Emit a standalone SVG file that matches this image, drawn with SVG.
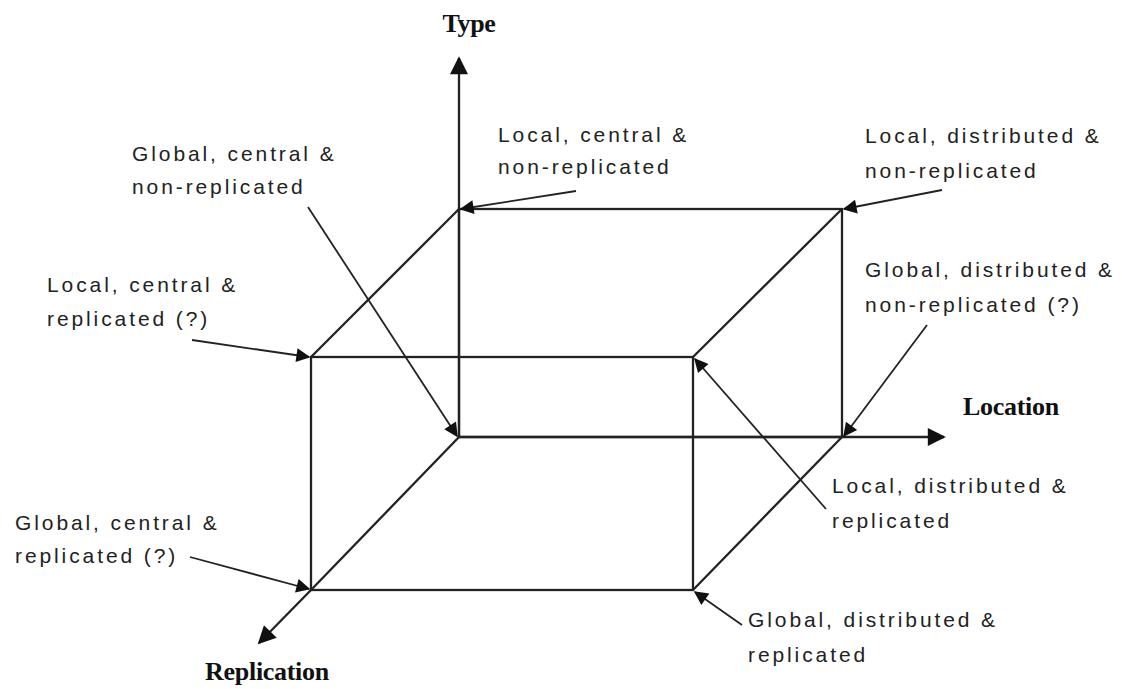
<svg xmlns="http://www.w3.org/2000/svg" width="1122" height="689" viewBox="0 0 1122 689">
<style>
.lbl{font-family:"Liberation Sans",Arial,sans-serif;font-size:21px;fill:#222;letter-spacing:2.9px}
.ax{font-family:"Liberation Serif","Times New Roman",serif;font-size:26px;font-weight:bold;fill:#111;letter-spacing:-0.3px}
.edge{stroke:#222;stroke-width:2.3;fill:none}
.axis{stroke:#222;stroke-width:2.3;fill:none;marker-end:url(#big)}
.ptr{stroke:#222;stroke-width:1.8;fill:none;marker-end:url(#small)}
</style>
<defs>
<marker id="big" viewBox="0 0 10 10" refX="9" refY="5" markerWidth="22" markerHeight="18" markerUnits="userSpaceOnUse" orient="auto"><path d="M0,0 L10,5 L0,10 Z" fill="#111"/></marker>
<marker id="small" viewBox="0 0 10 10" refX="9" refY="5" markerWidth="17" markerHeight="14" markerUnits="userSpaceOnUse" orient="auto"><path d="M0,0 L10,5 L0,10 Z" fill="#111"/></marker>
</defs>
<g id="box">
<rect class="edge" x="459" y="209" width="383" height="228"/>
<rect class="edge" x="311" y="357" width="382" height="233"/>
<line class="edge" x1="459" y1="209" x2="311" y2="357"/>
<line class="edge" x1="842" y1="209" x2="693" y2="357"/>
<line class="edge" x1="842" y1="437" x2="693" y2="590"/>
<line class="edge" x1="459" y1="437" x2="311" y2="590"/>
</g>
<g id="axes">
<line class="axis" x1="459" y1="437" x2="459" y2="58"/>
<line class="axis" x1="459" y1="437" x2="944" y2="437"/>
<line class="axis" x1="311" y1="590" x2="259" y2="643"/>
<text class="ax" x="469" y="32" text-anchor="middle">Type</text>
<text class="ax" x="1011" y="415" text-anchor="middle">Location</text>
<text class="ax" x="267" y="680" text-anchor="middle">Replication</text>
</g>
<g id="connectors">
<line class="ptr" x1="576" y1="191" x2="461" y2="209"/>
<line class="ptr" x1="308" y1="207" x2="457" y2="436"/>
<line class="ptr" x1="192" y1="340" x2="309" y2="357"/>
<line class="ptr" x1="190" y1="557" x2="309" y2="589"/>
<line class="ptr" x1="942" y1="190" x2="844" y2="209"/>
<line class="ptr" x1="927" y1="325" x2="844" y2="436"/>
<line class="ptr" x1="826" y1="509" x2="695" y2="359"/>
<line class="ptr" x1="742" y1="625" x2="695" y2="592"/>
</g>
<g id="n-lcn"><text class="lbl" x="498" y="142">Local, central &amp;</text><text class="lbl" x="498" y="174">non-replicated</text></g>
<g id="n-gcn"><text class="lbl" x="132" y="161">Global, central &amp;</text><text class="lbl" x="132" y="194">non-replicated</text></g>
<g id="n-lcr"><text class="lbl" x="47" y="292">Local, central &amp;</text><text class="lbl" x="47" y="326">replicated (?)</text></g>
<g id="n-gcr"><text class="lbl" x="15" y="530">Global, central &amp;</text><text class="lbl" x="15" y="563">replicated (?)</text></g>
<g id="n-ldn"><text class="lbl" x="865" y="143">Local, distributed &amp;</text><text class="lbl" x="865" y="178">non-replicated</text></g>
<g id="n-gdn"><text class="lbl" x="865" y="277">Global, distributed &amp;</text><text class="lbl" x="865" y="312">non-replicated (?)</text></g>
<g id="n-ldr"><text class="lbl" x="832" y="493">Local, distributed &amp;</text><text class="lbl" x="832" y="528">replicated</text></g>
<g id="n-gdr"><text class="lbl" x="748" y="627">Global, distributed &amp;</text><text class="lbl" x="748" y="662">replicated</text></g>
</svg>
